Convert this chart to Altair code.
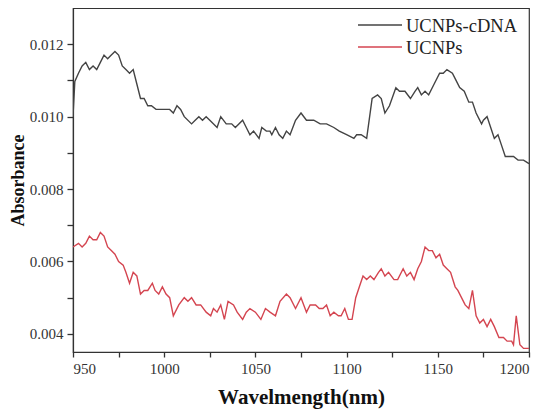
import altair as alt
import pandas as pd

series_names = ["UCNPs-cDNA", "UCNPs"]

cdna_wl = [950, 951, 953, 955, 957, 959, 961, 963, 965, 967, 969, 971, 973, 975, 977, 979, 981, 983,
           985, 987, 989, 991, 993, 995.5, 998, 1003, 1005, 1007, 1009, 1011, 1015, 1017, 1019, 1021,
           1023, 1025, 1029, 1031, 1034, 1037, 1039, 1043, 1045, 1047, 1049, 1052, 1053.5, 1056, 1058,
           1059, 1061, 1063, 1065, 1067, 1069, 1072, 1075, 1078, 1082, 1085.5, 1089, 1093, 1096, 1100,
           1104, 1105.5, 1108, 1111, 1114, 1117, 1119, 1121, 1123.5, 1127, 1129, 1132, 1135, 1137.5,
           1139, 1141, 1143, 1145, 1148, 1151, 1153, 1155, 1158, 1160, 1162, 1164.5, 1167, 1169, 1171,
           1174, 1175, 1177, 1179, 1181, 1183, 1185, 1187, 1191.5, 1194, 1197, 1200]
cdna_abs = [0.0100, 0.01097, 0.0112, 0.0114, 0.0115, 0.0113, 0.0114, 0.0113, 0.0115, 0.0117, 0.0116,
            0.0117, 0.0118, 0.0117, 0.0114, 0.0113, 0.0112, 0.0113, 0.0109, 0.0105, 0.0105, 0.0103,
            0.0103, 0.0102, 0.0102, 0.0102, 0.0101, 0.0103, 0.0102, 0.0100, 0.0098, 0.0099, 0.0100,
            0.0099, 0.0100, 0.0099, 0.0097, 0.0100, 0.0098, 0.0098, 0.0097, 0.0099, 0.0097, 0.0095,
            0.0096, 0.0094, 0.0097, 0.0096, 0.0096, 0.0095, 0.0097, 0.0095, 0.0094, 0.0096, 0.0095,
            0.0099, 0.0101, 0.0099, 0.0099, 0.0098, 0.0098, 0.0097, 0.0096, 0.0095, 0.0094, 0.0095,
            0.0095, 0.0094, 0.0105, 0.0106, 0.0105, 0.0101, 0.0103, 0.0108, 0.0107, 0.0107, 0.0105,
            0.0107, 0.0108, 0.0106, 0.0107, 0.0106, 0.0109, 0.0112, 0.0112, 0.0113, 0.0112, 0.0110,
            0.0108, 0.0107, 0.0104, 0.0104, 0.0101, 0.0098, 0.0099, 0.0100, 0.0097, 0.0094, 0.0095,
            0.0092, 0.0089, 0.0089, 0.0088, 0.0088, 0.0087]

ucnp_wl = [950, 953, 955, 957, 959, 961, 963, 965, 967, 969, 971, 973, 975, 977.5, 979, 981, 983, 985,
           987, 989, 991, 993.5, 995, 997, 999, 1001, 1003, 1005, 1008, 1011, 1013, 1015, 1017.5, 1020,
           1023, 1025.5, 1027, 1029, 1031, 1033, 1035, 1038, 1040, 1043, 1045, 1047, 1050, 1053,
           1055.5, 1058, 1061, 1063.5, 1067, 1069, 1072, 1075, 1078, 1080, 1083, 1085, 1087, 1089,
           1091, 1093, 1095.5, 1097, 1099, 1101, 1103, 1105, 1107, 1109, 1111, 1113, 1115, 1117.5,
           1119, 1121, 1123, 1126, 1128, 1131, 1133, 1135, 1137, 1139, 1141, 1143, 1145, 1147, 1149,
           1151, 1153, 1155, 1157, 1159.5, 1161, 1163, 1165, 1167, 1169, 1171, 1173, 1175, 1177, 1179,
           1181, 1183.5, 1186, 1188, 1190.5, 1191.5, 1193, 1195, 1197, 1200]
ucnp_abs = [0.0064, 0.0065, 0.0064, 0.0065, 0.0067, 0.0066, 0.0066, 0.0068, 0.0067, 0.0064, 0.0063,
            0.0062, 0.0060, 0.0059, 0.0057, 0.0054, 0.0057, 0.0056, 0.0051, 0.0052, 0.0052, 0.0054,
            0.0052, 0.0051, 0.0053, 0.0051, 0.0050, 0.0045, 0.0048, 0.0050, 0.0049, 0.0050, 0.0048,
            0.0048, 0.0046, 0.0045, 0.0047, 0.0046, 0.0048, 0.0044, 0.0049, 0.0048, 0.0046, 0.0044,
            0.0046, 0.0047, 0.0046, 0.0044, 0.0047, 0.0046, 0.0045, 0.0049, 0.0051, 0.0050, 0.0047,
            0.0050, 0.0046, 0.0048, 0.0048, 0.0047, 0.0047, 0.0048, 0.0045, 0.0046, 0.0045, 0.0045,
            0.0047, 0.0044, 0.0044, 0.0050, 0.0053, 0.0056, 0.0055, 0.0056, 0.0055, 0.0057, 0.0058,
            0.0056, 0.0057, 0.0055, 0.0055, 0.0058, 0.0056, 0.0057, 0.0055, 0.0058, 0.0060, 0.0064,
            0.0063, 0.0063, 0.0061, 0.0062, 0.0059, 0.0058, 0.0057, 0.0053, 0.0052, 0.0050, 0.0048,
            0.0047, 0.0052, 0.0045, 0.0043, 0.0044, 0.0042, 0.0044, 0.0042, 0.0039, 0.0039, 0.0038,
            0.0038, 0.0037, 0.0045, 0.0037, 0.0036, 0.0036]

x_ticks = [950, 975, 1000, 1025, 1050, 1075, 1100, 1125, 1150, 1175, 1200]
y_ticks = [0.004, 0.005, 0.006, 0.007, 0.008, 0.009, 0.010, 0.011, 0.012]

rows = []
for w, a in zip(cdna_wl, cdna_abs):
    rows.append({"wl": w, "abs": a, "series": series_names[0]})
for w, a in zip(ucnp_wl, ucnp_abs):
    rows.append({"wl": w, "abs": a, "series": series_names[1]})
df = pd.DataFrame(rows)
legend_df = pd.DataFrame({"series": series_names})

FONT = "Liberation Serif"
AXC = "#333333"
color_scale = alt.Scale(domain=series_names, range=["#444444", "#d44550"])
x_scale = alt.Scale(domain=[950, 1200], nice=False, zero=False)
y_scale = alt.Scale(domain=[0.0035, 0.013], nice=False, zero=False)

lines = alt.Chart(df).mark_line(strokeWidth=1.4, clip=True).encode(
    x=alt.X("wl:Q", scale=x_scale,
            axis=alt.Axis(title="Wavelmength(nm)", values=x_ticks, format="d",
                          labelExpr="datum.value % 50 == 0 ? datum.label : ''",
                          ticks=True, tickSize=5, tickWidth=1.3, tickColor=AXC,
                          labelPadding=4, titlePadding=10,
                          grid=False, titleFontSize=21)),
    y=alt.Y("abs:Q", scale=y_scale,
            axis=alt.Axis(title="Absorbance", values=y_ticks, format=".3f",
                          labelExpr="round(datum.value * 1000) % 2 == 0 ? datum.label : ''",
                          ticks=True, tickSize=6, tickWidth=1.3, tickColor=AXC,
                          labelPadding=4, titlePadding=2,
                          grid=False, titleFontSize=18)),
    color=alt.Color("series:N", scale=color_scale, legend=None),
    detail="series:N",
)

legend_layers = []
for i, name in enumerate(series_names):
    ypos = 17 + 22 * i
    base = alt.Chart(legend_df).transform_filter(alt.datum.series == name)
    legend_layers.append(
        base.mark_rule(strokeWidth=1.5).encode(
            x=alt.value(285), x2=alt.value(329), y=alt.value(ypos),
            color=alt.Color("series:N", scale=color_scale, legend=None),
        )
    )
    legend_layers.append(
        base.mark_text(align="left", baseline="middle", font=FONT, fontSize=18.5,
                       color="#222222").encode(
            x=alt.value(333), y=alt.value(ypos + 1), text="series:N",
        )
    )

chart = alt.layer(lines, *legend_layers).properties(
    width=456, height=344,
    autosize=alt.AutoSizeParams(type="none"),
    padding={"left": 65, "top": 0, "right": 13, "bottom": 58},
).configure_view(
    stroke=AXC, strokeWidth=1.2
).configure_axis(
    labelFont=FONT, labelFontSize=15, labelColor="#333333",
    titleFont=FONT, titleFontWeight="bold", titleColor="#111111",
    domainColor=AXC, domainWidth=1.2
)

chart.save("out.html", embed_options={"renderer": "svg", "actions": False})
